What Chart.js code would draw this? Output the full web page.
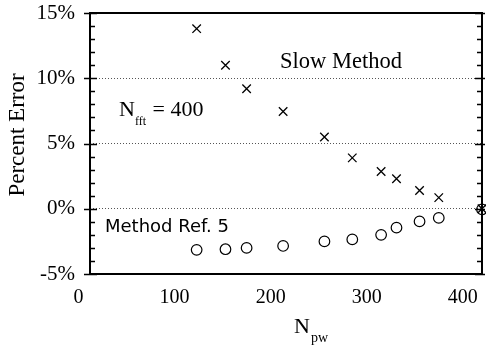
<!DOCTYPE html>
<html>
<head>
<meta charset="utf-8">
<script src="https://cdn.jsdelivr.net/npm/chart.js@4/dist/chart.umd.min.js"></script>
<style>
html,body{margin:0;padding:0;background:#fff;overflow:hidden;}
#wrap{width:486px;height:349px;}
</style>
</head>
<body>
<div id="wrap"><canvas id="c" width="486" height="349"></canvas></div>
<script>
// Data
const nPw = [123, 153, 175, 213, 256, 285, 315, 331, 355, 375, 420];
const slowMethodErr = [13.8, 11.0, 9.2, 7.45, 5.5, 3.9, 2.85, 2.3, 1.4, 0.85, 0];
const refMethodErr = [-3.15, -3.1, -3.0, -2.85, -2.5, -2.35, -2.0, -1.45, -0.97, -0.7, -0.05];
const xTicks = [0, 100, 200, 300, 400];
const yTicks = [-5, 0, 5, 10, 15];
const yMinorStep = 1;

const SERIF = '"Liberation Serif", "Times New Roman", serif';
const SANS = '"DejaVu Sans", "Liberation Sans", sans-serif';

const toPts = (xs, ys) => xs.map((x, i) => ({x: x, y: ys[i]}));

const frame = {
  id: 'frame',
  afterDraw(chart) {
    const ctx = chart.ctx;
    const a = chart.chartArea;
    const ys = chart.scales.y;
    ctx.save();
    ctx.strokeStyle = '#000';
    ctx.lineWidth = 2;
    ctx.strokeRect(a.left, a.top, a.right - a.left, a.bottom - a.top);
    ctx.lineWidth = 1.6;
    for (let v = ys.min; v <= ys.max + 1e-9; v += yMinorStep) {
      const py = Math.round(ys.getPixelForValue(v)) + 0.5;
      const major = yTicks.includes(Math.round(v));
      ctx.beginPath();
      if (major) {
        ctx.moveTo(a.left - 6, py); ctx.lineTo(a.left + 7, py);
        ctx.moveTo(a.right - 7, py); ctx.lineTo(a.right + 3, py);
      } else {
        ctx.moveTo(a.left, py); ctx.lineTo(a.left + 5, py);
        ctx.moveTo(a.right - 5, py); ctx.lineTo(a.right, py);
      }
      ctx.stroke();
    }
    ctx.fillStyle = '#000';
    ctx.textBaseline = 'alphabetic';
    ctx.textAlign = 'left';
    ctx.font = '22.5px ' + SERIF;
    ctx.fillText('Slow Method', 280, 68);
    ctx.font = '22px ' + SERIF;
    ctx.fillText('N', 119, 116);
    let w = ctx.measureText('N').width;
    ctx.font = '12px ' + SERIF;
    ctx.fillText('fft', 119 + w, 125);
    let w2 = ctx.measureText('fft').width;
    ctx.font = '22px ' + SERIF;
    ctx.fillText(' = 400', 119 + w + w2 + 1, 116);
    ctx.font = '18px ' + SANS;
    ctx.fillText('Method Ref. 5', 105, 232);
    ctx.font = '22px ' + SERIF;
    ctx.fillText('N', 294, 333);
    w = ctx.measureText('N').width;
    ctx.font = '14px ' + SERIF;
    ctx.fillText('pw', 294 + w + 1, 342);
    ctx.translate(24, 135);
    ctx.rotate(-Math.PI / 2);
    ctx.textAlign = 'center';
    ctx.font = '23px ' + SERIF;
    ctx.fillText('Percent Error', 0, 0);
    ctx.restore();
  }
};

new Chart(document.getElementById('c'), {
  type: 'scatter',
  data: {
    datasets: [
      {
        label: 'Slow Method',
        data: toPts(nPw, slowMethodErr),
        pointStyle: 'crossRot',
        pointRadius: 6,
        borderColor: '#000',
        backgroundColor: '#000',
        pointBorderWidth: 1.3,
        clip: false
      },
      {
        label: 'Method Ref. 5',
        data: toPts(nPw, refMethodErr),
        pointStyle: 'circle',
        pointRadius: 5.3,
        borderColor: '#000',
        backgroundColor: 'rgba(0,0,0,0)',
        pointBorderWidth: 1.2,
        clip: false
      }
    ]
  },
  options: {
    animation: false,
    responsive: false,
    devicePixelRatio: 1,
    layout: {autoPadding: false, padding: {left: 0, right: 4, top: 0, bottom: 0}},
    plugins: {legend: {display: false}, tooltip: {enabled: false}},
    scales: {
      x: {
        type: 'linear',
        min: 12,
        max: 420,
        afterBuildTicks(s) { s.ticks = xTicks.map(v => ({value: v})); },
        afterFit(s) { s.height = 75; s.paddingRight = 4; s.paddingLeft = 0; },
        grid: {display: false, drawTicks: false},
        border: {display: false},
        ticks: {
          padding: 12,
          color: '#000',
          font: {family: SERIF, size: 20},
          callback: v => String(v)
        }
      },
      y: {
        type: 'linear',
        min: -5,
        max: 15,
        afterBuildTicks(s) { s.ticks = yTicks.map(v => ({value: v})); },
        afterFit(s) { s.width = 90; s.paddingTop = 13; s.paddingBottom = 0; },
        grid: {
          drawTicks: false,
          color: ctx => (ctx.tick && (ctx.tick.value === -5 || ctx.tick.value === 15)) ? 'rgba(0,0,0,0)' : '#555',
          lineWidth: 1
        },
        border: {display: false, dash: [1, 2]},
        ticks: {
          padding: 15,
          color: '#000',
          font: {family: SERIF, size: 21},
          callback: v => v + '%'
        }
      }
    }
  },
  plugins: [frame]
});
</script>
</body>
</html>
